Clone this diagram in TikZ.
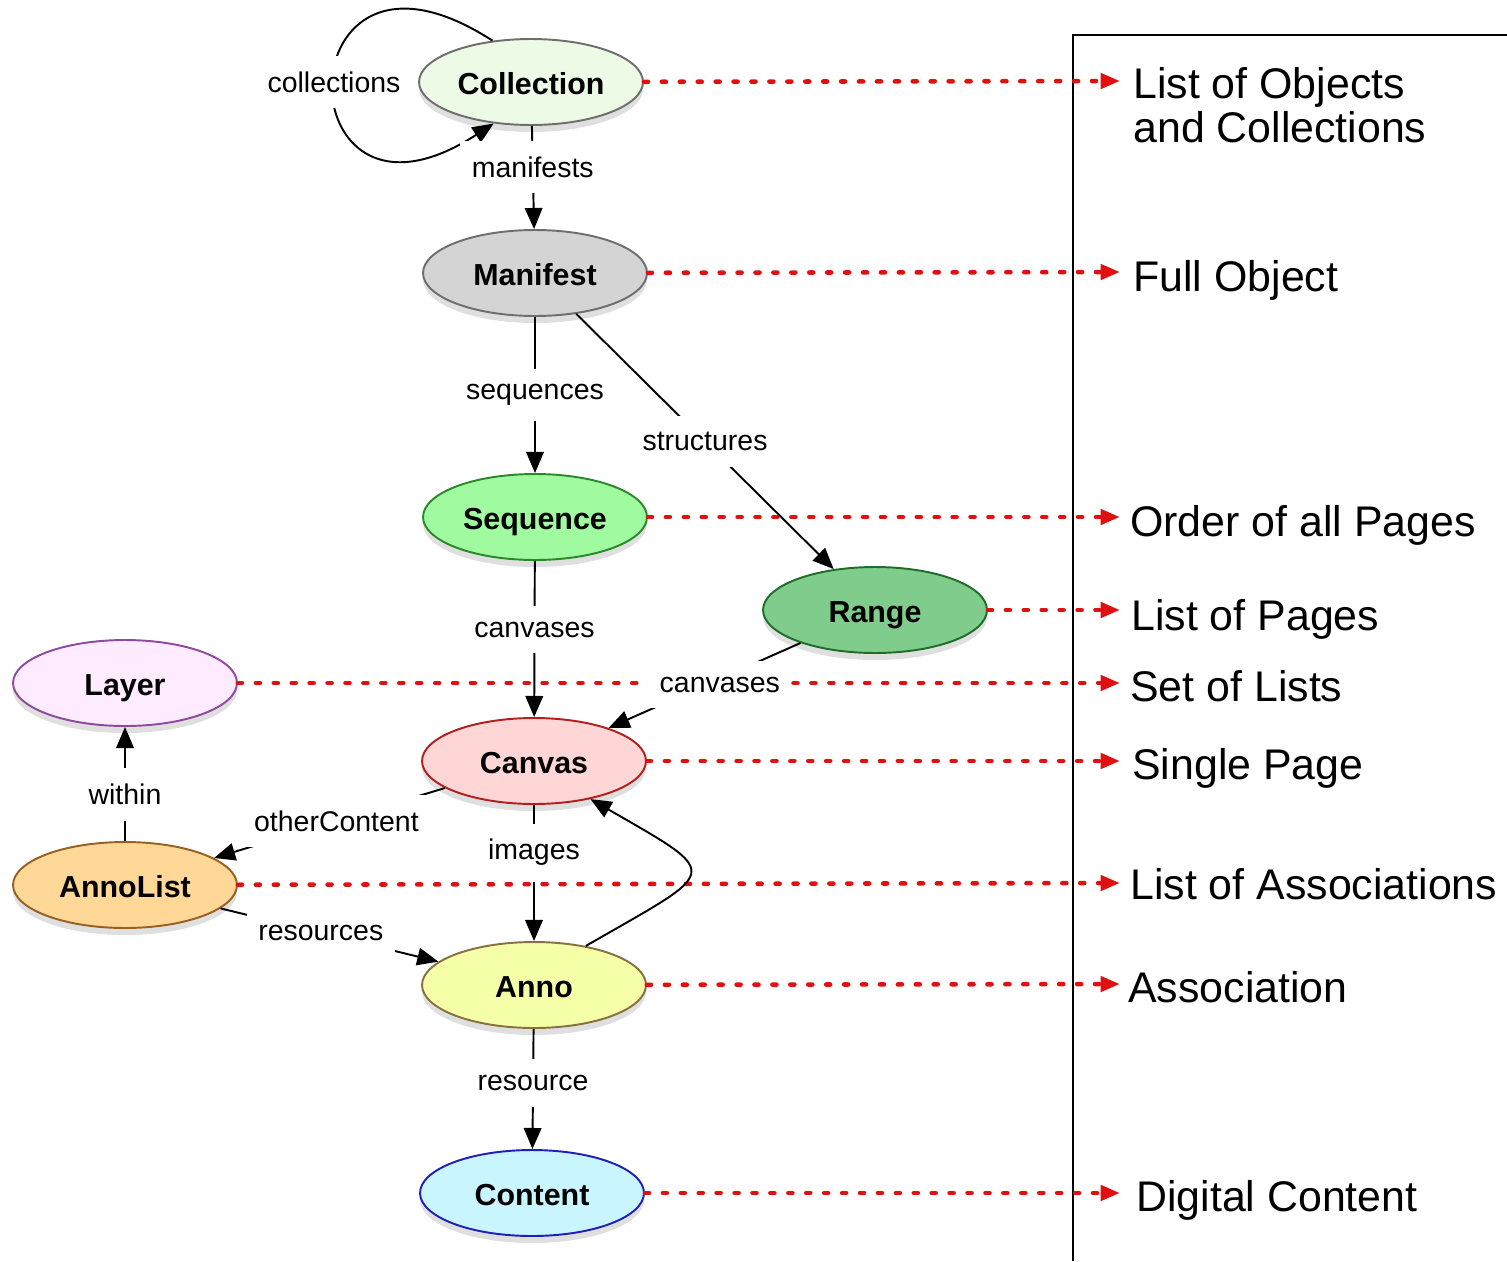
\documentclass[tikz,border=0pt]{standalone}
\usepackage{fontspec}
\setmainfont{Liberation Sans}
\usetikzlibrary{arrows.meta,shapes.geometric,shadows}

\definecolor{collfill}{HTML}{ECFAE6}
\definecolor{colldraw}{HTML}{6E6E6E}
\definecolor{manfill}{HTML}{D4D4D4}
\definecolor{mandraw}{HTML}{6E6E6E}
\definecolor{seqfill}{HTML}{A0FBA0}
\definecolor{seqdraw}{HTML}{2A8A2A}
\definecolor{rangefill}{HTML}{80CC8C}
\definecolor{rangedraw}{HTML}{1E6E2A}
\definecolor{layerfill}{HTML}{FFEBFF}
\definecolor{layerdraw}{HTML}{8E4A9E}
\definecolor{canvfill}{HTML}{FFD6D6}
\definecolor{canvdraw}{HTML}{B02020}
\definecolor{alistfill}{HTML}{FFD898}
\definecolor{alistdraw}{HTML}{9A6020}
\definecolor{annofill}{HTML}{F5FFA8}
\definecolor{annodraw}{HTML}{8A7040}
\definecolor{contfill}{HTML}{C8F5FF}
\definecolor{contdraw}{HTML}{2020B8}
\definecolor{notered}{HTML}{E01010}

\tikzset{
  obj/.style 2 args={ellipse, fill=#1, draw=#2, line width=1.1pt,
    minimum width=4.48cm, minimum height=1.72cm, inner sep=0pt,
    text height=14.7pt, text depth=0pt,
    font=\fontsize{17.3}{20}\selectfont\bfseries,
    drop shadow={shadow xshift=0pt, shadow yshift=-4pt, opacity=0.25}},
  rel/.style={fill=white, inner xsep=6.5pt, inner ysep=9pt,
    font=\fontsize{16.2}{19}\selectfont},
  link/.style={line width=1.1pt, -{Triangle[length=12pt,width=10pt]}},
  note/.style={notered, line width=2.6pt, line cap=round,
    dash pattern=on 2.3pt off 7.9pt, -{Triangle[length=11pt,width=8.5pt]}},
  desc/.style={anchor=base west, align=left, inner sep=0pt,
    font=\fontsize{24.4}{24.6}\selectfont},
}

\begin{document}
\begin{tikzpicture}[x=0.02cm, y=0.02cm]
%%%%% FRAME %%%%%
\useasboundingbox (0,0) rectangle (1507,-1261);
\draw[line width=1.1pt] (1073,-1261) -- (1073,-35) -- (1507,-35);

%%%%% OBJECTS %%%%%
\node[obj={collfill}{colldraw}] (Collection) at (531,-82) {Collection};
\node[obj={manfill}{mandraw}] (Manifest) at (535,-273) {Manifest};
\node[obj={seqfill}{seqdraw}] (Sequence) at (535,-517) {Sequence};
\node[obj={rangefill}{rangedraw}] (Range) at (875,-610) {Range};
\node[obj={layerfill}{layerdraw}] (Layer) at (125,-683) {Layer};
\node[obj={canvfill}{canvdraw}] (Canvas) at (534,-761) {Canvas};
\node[obj={alistfill}{alistdraw}] (AnnoList) at (125,-885) {AnnoList};
\node[obj={annofill}{annodraw}] (Anno) at (534,-985) {Anno};
\node[obj={contfill}{contdraw}] (Content) at (532,-1193) {Content};

%%%%% DESCRIPTIONS %%%%%
\coordinate (tObjects) at (1120,-81);
\coordinate (tFull) at (1120,-272);
\coordinate (tOrder) at (1120,-517);
\coordinate (tPages) at (1120,-610);
\coordinate (tSets) at (1120,-683);
\coordinate (tSingle) at (1120,-761);
\coordinate (tAssocs) at (1120,-883);
\coordinate (tAssoc) at (1120,-984);
\coordinate (tDigital) at (1120,-1193);

\node[desc] (dObjects) at (1133,-142) {List of Objects\\and Collections};
\node[desc] (dFull) at (1133,-291) {Full Object};
\node[desc] (dOrder) at (1130,-536) {Order of all Pages};
\node[desc] (dPages) at (1131,-630) {List of Pages};
\node[desc] (dSets) at (1130,-701) {Set of Lists};
\node[desc] (dSingle) at (1132,-779) {Single Page};
\node[desc] (dAssocs) at (1130,-899) {List of Associations};
\node[desc] (dAssoc) at (1128,-1002) {Association};
\node[desc] (dDigital) at (1136,-1211) {Digital Content};

%%%%% RED LINKS %%%%%
\draw[note] (Collection) -- (tObjects);
\draw[note] (Manifest) -- (tFull);
\draw[note] (Sequence) -- (tOrder);
\draw[note] (Range) -- (tPages);
\draw[note] (Layer) -- (tSets);
\draw[note] (Canvas) -- (tSingle);
\draw[note] (AnnoList) -- (tAssocs);
\draw[note] (Anno) -- (tAssoc);
\draw[note] (Content) -- (tDigital);

%%%%% RELATIONS %%%%%
\draw[link] (Collection.133) to[out=147, in=-147, looseness=7.8]
  node[rel] {collections} (Collection.-132);
\draw[link] (Collection) -- node[rel, pos=0.4] {manifests} (Manifest);
\draw[link] (Manifest) -- node[rel, pos=0.5] {sequences} (Sequence);
\draw[link] (Manifest) -- node[rel] {structures} (Range);
\draw[link] (Sequence) -- node[rel, pos=0.44] {canvases} (Canvas);
\draw[link] (Range) -- node[rel, pos=0.42, yshift=-0.12cm] {canvases} (Canvas);
\draw[link] (Canvas) -- node[rel, pos=0.47] {otherContent} (AnnoList);
\draw[link] (AnnoList) -- node[rel, pos=0.41] {within} (Layer);
\draw[link] (AnnoList) -- node[rel, pos=0.46] {resources} (Anno);
\draw[link] (Canvas) -- node[rel, pos=0.35] {images} (Anno);
\draw[link] (Anno.37) to[out=30, in=-30, looseness=2.7] (Canvas.-34);
\draw[link] (Anno) -- node[rel, pos=0.45] {resource} (Content);
\end{tikzpicture}
\end{document}
